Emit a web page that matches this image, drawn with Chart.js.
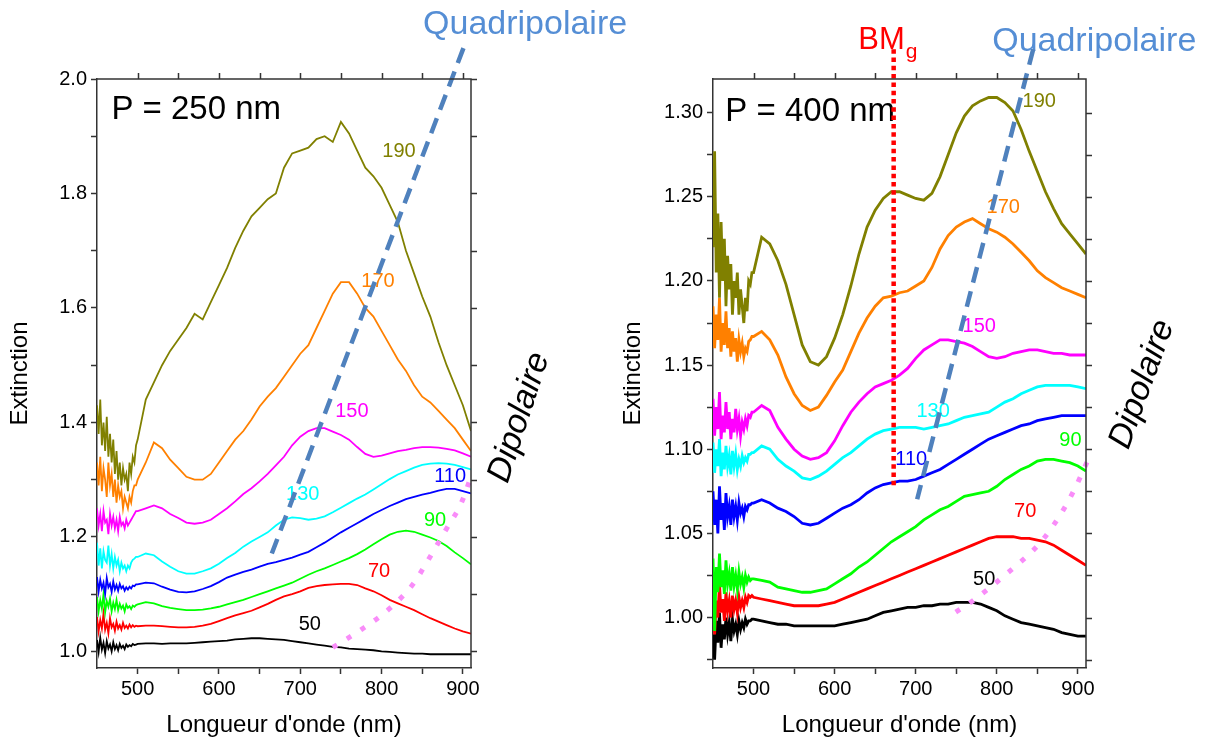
<!DOCTYPE html>
<html>
<head>
<meta charset="utf-8">
<script src="https://cdn.jsdelivr.net/npm/chart.js@4.4.0/dist/chart.umd.min.js"></script>
<style>
  html, body { margin: 0; padding: 0; background: #fff; }
  #wrap { position: relative; width: 1206px; height: 742px; }
  canvas { position: absolute; left: 0; top: 0; }
</style>
</head>
<body>
<div id="wrap">
  <canvas id="chartLeft" width="1206" height="742"></canvas>
  <canvas id="chartRight" width="1206" height="742"></canvas>
</div>
<script>
// wavelength grid (nm): dense at the noisy start, then every 10 nm
const wavelengths = [450,452,454,456,458,460,462,464,466,468,470,472,474,476,478,480,482,484,486,488,490,492,494,496,498,
  500,510,520,530,540,550,560,570,580,590,600,610,620,630,640,650,660,670,680,690,700,710,720,730,740,750,760,770,780,790,800,810,820,830,840,850,860,870,880,890,900,910];

const seriesNames = ['190', '170', '150', '130', '110', '90', '70', '50'];
const seriesColors = ['#808000', '#ff8000', '#ff00ff', '#00ffff', '#0000ff', '#00ff00', '#ff0000', '#000000'];

// P = 250 nm
const ext250_190 = [1.43,1.38,1.44,1.36,1.40,1.35,1.41,1.34,1.38,1.33,1.37,1.31,1.35,1.30,1.33,1.29,1.32,1.30,1.31,1.28,1.33,1.31,1.34,1.33,1.36,
  1.37,1.44,1.47,1.50,1.525,1.545,1.565,1.59,1.58,1.61,1.64,1.67,1.705,1.735,1.76,1.775,1.79,1.80,1.845,1.87,1.875,1.88,1.895,1.90,1.89,1.925,1.905,1.875,1.845,1.83,1.81,1.78,1.75,1.70,1.66,1.62,1.585,1.54,1.50,1.465,1.43,1.385];
const ext250_170 = [1.33,1.29,1.34,1.28,1.32,1.30,1.27,1.33,1.29,1.31,1.27,1.30,1.26,1.29,1.27,1.28,1.25,1.27,1.26,1.25,1.27,1.26,1.28,1.29,1.29,
  1.30,1.33,1.365,1.355,1.335,1.32,1.305,1.30,1.30,1.31,1.33,1.35,1.37,1.385,1.405,1.428,1.445,1.46,1.48,1.50,1.52,1.535,1.565,1.595,1.625,1.645,1.645,1.625,1.60,1.585,1.56,1.535,1.51,1.49,1.465,1.445,1.435,1.42,1.405,1.39,1.37,1.35];
const ext250_150 = [1.25,1.22,1.24,1.21,1.245,1.225,1.23,1.205,1.24,1.22,1.235,1.215,1.23,1.21,1.235,1.22,1.225,1.215,1.23,1.22,1.225,1.23,1.235,1.24,1.245,
  1.245,1.25,1.255,1.25,1.24,1.233,1.225,1.223,1.225,1.23,1.24,1.25,1.262,1.275,1.285,1.297,1.31,1.325,1.34,1.36,1.375,1.385,1.39,1.39,1.384,1.378,1.37,1.357,1.345,1.34,1.342,1.346,1.35,1.352,1.355,1.357,1.357,1.356,1.354,1.351,1.346,1.34];
const ext250_130 = [1.19,1.15,1.18,1.145,1.175,1.16,1.155,1.185,1.15,1.17,1.145,1.165,1.15,1.16,1.14,1.155,1.145,1.15,1.14,1.15,1.145,1.155,1.16,1.162,1.165,
  1.165,1.171,1.168,1.157,1.148,1.14,1.136,1.136,1.14,1.145,1.153,1.163,1.172,1.183,1.192,1.2,1.208,1.22,1.23,1.234,1.233,1.23,1.232,1.236,1.243,1.251,1.259,1.267,1.274,1.283,1.292,1.301,1.309,1.315,1.321,1.326,1.328,1.329,1.328,1.326,1.322,1.318];
const ext250_110 = [1.13,1.105,1.125,1.11,1.12,1.1,1.128,1.112,1.118,1.104,1.122,1.108,1.116,1.106,1.118,1.11,1.114,1.106,1.112,1.108,1.113,1.11,1.115,1.114,1.117,
  1.117,1.12,1.119,1.113,1.108,1.104,1.103,1.105,1.109,1.114,1.121,1.129,1.134,1.139,1.143,1.148,1.153,1.156,1.16,1.164,1.169,1.174,1.182,1.19,1.199,1.208,1.216,1.224,1.232,1.24,1.247,1.254,1.26,1.266,1.27,1.274,1.277,1.281,1.284,1.284,1.28,1.276];
const ext250_90 = [1.095,1.07,1.09,1.075,1.1,1.068,1.088,1.078,1.092,1.07,1.085,1.074,1.09,1.072,1.083,1.075,1.08,1.07,1.082,1.076,1.079,1.074,1.08,1.078,1.081,
  1.082,1.086,1.084,1.079,1.076,1.074,1.072,1.072,1.073,1.075,1.078,1.082,1.086,1.09,1.095,1.1,1.105,1.11,1.115,1.12,1.127,1.134,1.14,1.145,1.151,1.157,1.163,1.17,1.178,1.187,1.196,1.204,1.209,1.211,1.209,1.204,1.199,1.193,1.184,1.173,1.163,1.152];
const ext250_70 = [1.06,1.035,1.055,1.04,1.066,1.038,1.05,1.032,1.058,1.042,1.048,1.036,1.052,1.04,1.046,1.038,1.05,1.041,1.045,1.04,1.047,1.042,1.046,1.043,1.045,
  1.044,1.045,1.045,1.044,1.043,1.042,1.042,1.043,1.045,1.048,1.053,1.058,1.063,1.067,1.071,1.077,1.083,1.09,1.096,1.1,1.105,1.111,1.114,1.116,1.117,1.118,1.118,1.116,1.11,1.105,1.098,1.09,1.084,1.078,1.072,1.065,1.058,1.052,1.046,1.04,1.035,1.031];
const ext250_50 = [1.02,0.999,1.024,1.003,1.015,0.997,1.018,1.005,1.012,1.0,1.016,1.004,1.011,1.002,1.013,1.006,1.01,1.004,1.012,1.008,1.011,1.009,1.013,1.011,1.012,
  1.013,1.014,1.014,1.013,1.014,1.014,1.014,1.015,1.016,1.017,1.018,1.019,1.021,1.022,1.023,1.023,1.022,1.021,1.02,1.018,1.016,1.014,1.012,1.01,1.008,1.007,1.005,1.004,1.003,1.002,1.0,0.999,0.998,0.997,0.996,0.996,0.995,0.995,0.995,0.995,0.995,0.995];

// P = 400 nm
const ext400_190 = [1.22,1.277,1.205,1.24,1.19,1.235,1.2,1.225,1.185,1.215,1.195,1.21,1.18,1.2,1.19,1.205,1.18,1.195,1.185,1.175,1.19,1.182,1.2,1.198,1.205,
  1.205,1.226,1.222,1.212,1.198,1.18,1.162,1.152,1.15,1.155,1.166,1.18,1.197,1.216,1.232,1.242,1.249,1.253,1.253,1.251,1.249,1.248,1.252,1.262,1.275,1.288,1.298,1.304,1.307,1.309,1.309,1.306,1.301,1.29,1.277,1.265,1.253,1.243,1.234,1.228,1.222,1.216];
const ext400_170 = [1.185,1.16,1.18,1.165,1.19,1.158,1.175,1.162,1.182,1.16,1.172,1.155,1.17,1.158,1.166,1.152,1.165,1.158,1.163,1.155,1.16,1.158,1.164,1.165,1.167,
  1.167,1.17,1.165,1.156,1.143,1.133,1.126,1.123,1.125,1.132,1.14,1.147,1.158,1.169,1.178,1.185,1.19,1.191,1.193,1.194,1.197,1.2,1.208,1.219,1.227,1.232,1.235,1.237,1.234,1.231,1.229,1.226,1.222,1.217,1.212,1.206,1.202,1.199,1.196,1.194,1.192,1.19];
const ext400_150 = [1.13,1.108,1.125,1.112,1.134,1.106,1.12,1.11,1.128,1.112,1.122,1.106,1.118,1.11,1.124,1.112,1.118,1.108,1.116,1.112,1.118,1.114,1.12,1.119,1.122,
  1.122,1.126,1.123,1.113,1.106,1.1,1.096,1.094,1.095,1.098,1.105,1.114,1.122,1.128,1.133,1.137,1.139,1.141,1.144,1.148,1.154,1.159,1.162,1.165,1.165,1.164,1.163,1.161,1.158,1.155,1.154,1.155,1.157,1.158,1.159,1.159,1.158,1.157,1.157,1.156,1.156,1.156];
const ext400_130 = [1.104,1.086,1.1,1.09,1.106,1.084,1.098,1.088,1.102,1.09,1.096,1.085,1.099,1.09,1.097,1.088,1.094,1.09,1.096,1.092,1.095,1.093,1.097,1.097,1.098,
  1.098,1.102,1.1,1.094,1.09,1.087,1.083,1.082,1.084,1.087,1.091,1.095,1.098,1.102,1.106,1.109,1.111,1.112,1.113,1.113,1.113,1.112,1.113,1.114,1.115,1.117,1.119,1.12,1.121,1.122,1.125,1.128,1.13,1.133,1.135,1.137,1.138,1.138,1.138,1.138,1.137,1.136];
const ext400_110 = [1.075,1.055,1.07,1.05,1.078,1.058,1.068,1.052,1.074,1.06,1.066,1.055,1.07,1.06,1.066,1.058,1.068,1.062,1.065,1.06,1.066,1.064,1.067,1.067,1.068,
  1.068,1.07,1.068,1.065,1.063,1.06,1.056,1.055,1.056,1.059,1.062,1.065,1.067,1.07,1.074,1.077,1.079,1.08,1.081,1.081,1.082,1.084,1.086,1.088,1.091,1.094,1.097,1.1,1.103,1.106,1.108,1.11,1.112,1.114,1.115,1.117,1.118,1.119,1.12,1.12,1.12,1.12];
const ext400_90 = [1.035,0.992,1.03,1.015,1.038,1.018,1.028,1.014,1.034,1.02,1.026,1.016,1.03,1.019,1.025,1.017,1.027,1.02,1.024,1.018,1.025,1.021,1.024,1.022,1.023,
  1.023,1.022,1.021,1.018,1.017,1.016,1.015,1.015,1.016,1.017,1.02,1.023,1.026,1.03,1.033,1.037,1.041,1.045,1.048,1.051,1.054,1.058,1.061,1.064,1.066,1.069,1.072,1.073,1.074,1.075,1.078,1.082,1.085,1.088,1.09,1.093,1.094,1.094,1.093,1.092,1.09,1.087];
const ext400_70 = [1.012,0.99,1.01,1.0,1.02,1.003,1.011,0.998,1.015,1.004,1.01,1.0,1.013,1.005,1.01,1.003,1.012,1.006,1.01,1.006,1.012,1.009,1.013,1.012,1.013,
  1.012,1.011,1.01,1.009,1.008,1.007,1.007,1.007,1.007,1.008,1.009,1.011,1.013,1.015,1.017,1.019,1.021,1.023,1.025,1.027,1.029,1.031,1.033,1.035,1.037,1.039,1.041,1.043,1.045,1.047,1.048,1.048,1.048,1.047,1.047,1.046,1.045,1.043,1.04,1.037,1.034,1.031];
const ext400_50 = [0.99,0.975,0.998,0.985,1.003,0.982,0.996,0.987,1.0,0.99,0.997,0.986,0.999,0.992,0.996,0.99,0.998,0.993,0.997,0.994,0.999,0.996,0.998,0.998,0.999,
  0.999,0.998,0.997,0.996,0.996,0.995,0.995,0.995,0.995,0.995,0.995,0.996,0.997,0.998,0.999,1.001,1.003,1.004,1.005,1.006,1.006,1.007,1.007,1.008,1.008,1.009,1.009,1.009,1.008,1.006,1.004,1.001,0.999,0.997,0.996,0.995,0.994,0.993,0.991,0.99,0.989,0.989];

// ticks
const xTicks = [500, 550, 600, 650, 700, 750, 800, 850, 900];
const xTickLabels = ['500', '', '600', '', '700', '', '800', '', '900'];
const yTicks250 = [1.0, 1.1, 1.2, 1.3, 1.4, 1.5, 1.6, 1.7, 1.8, 1.9, 2.0];
const yTickLabels250 = ['1.0', '', '1.2', '', '1.4', '', '1.6', '', '1.8', '', '2.0'];
const yTicks400 = [0.975, 1.0, 1.025, 1.05, 1.075, 1.1, 1.125, 1.15, 1.175, 1.2, 1.225, 1.25, 1.275, 1.3];
const yTickLabels400 = ['', '1.00', '', '1.05', '', '1.10', '', '1.15', '', '1.20', '', '1.25', '', '1.30'];

// guide lines (wavelength, extinction)
const quad250X = [900.7, 665];
const quad250Y = [2.054, 1.171];
const dip250X = [740, 775, 810, 839, 857, 881, 898, 911, 918];
const dip250Y = [1.007, 1.038, 1.075, 1.118, 1.159, 1.217, 1.259, 1.311, 1.348];
const quad400X = [844.9, 701.8];
const quad400Y = [1.3377, 1.0703];
const bmgX = [672.8, 672.8];
const bmgY = [1.3377, 1.0777];
const dip400X = [749.4, 767.9, 808.6, 854.3, 882.7, 903.7, 916, 928];
const dip400Y = [1.0032, 1.0091, 1.0246, 1.0449, 1.0645, 1.0842, 1.0985, 1.118];

// where the series numbers sit (wavelength, extinction)
const tag250X = [821.5, 795.6, 763.5, 703.1, 884.3, 865.8, 796.9, 711.7];
const tag250Y = [1.874, 1.646, 1.419, 1.274, 1.306, 1.229, 1.139, 1.047];
const tag400X = [852.3, 807.9, 778.3, 721.5, 694.5, 890.8, 835.0, 784.5];
const tag400Y = [1.3068, 1.2438, 1.1731, 1.1226, 1.0941, 1.1054, 1.0632, 1.0227];

const family = "'Liberation Sans', Arial, sans-serif";
Chart.defaults.font.family = family;
Chart.defaults.color = '#000';

function toPoints(xs, ys) {
  return xs.map((x, i) => ({ x: x, y: ys[i] }));
}

const boxFrame = {
  id: 'boxFrame',
  afterDraw(chart) {
    const { ctx, chartArea: a, scales: { x, y } } = chart;
    ctx.save();
    ctx.strokeStyle = '#333';
    ctx.lineWidth = 1.5;
    ctx.beginPath();
    ctx.moveTo(a.left, a.top);
    ctx.lineTo(a.right, a.top);
    ctx.lineTo(a.right, a.bottom);
    x.ticks.forEach(t => {
      const px = Math.round(x.getPixelForValue(t.value)) + 0.5;
      ctx.moveTo(px, a.top);
      ctx.lineTo(px, a.top - 6);
    });
    y.ticks.forEach(t => {
      const py = Math.round(y.getPixelForValue(t.value)) + 0.5;
      ctx.moveTo(a.right, py);
      ctx.lineTo(a.right + 6, py);
    });
    ctx.stroke();
    ctx.restore();
  }
};

function notesPlugin(tagX, tagY, notes) {
  return {
    id: 'notes',
    beforeDatasetsDraw(chart) {
      const { ctx, scales: { x, y } } = chart;
      ctx.save();
      ctx.textAlign = 'center';
      ctx.textBaseline = 'middle';
      ctx.font = '20px ' + family;
      seriesNames.forEach((name, i) => {
        ctx.fillStyle = seriesColors[i];
        ctx.fillText(name, x.getPixelForValue(tagX[i]), y.getPixelForValue(tagY[i]));
      });
      notes.forEach(n => {
        const px = x.getPixelForValue(n.x);
        const py = y.getPixelForValue(n.y);
        ctx.save();
        ctx.fillStyle = n.color;
        ctx.font = (n.italic ? 'italic ' : '') + n.size + 'px ' + family;
        ctx.translate(px, py);
        if (n.rotate) ctx.rotate(n.rotate * Math.PI / 180);
        ctx.textAlign = n.align;
        ctx.textBaseline = n.baseline;
        ctx.fillText(n.text, 0, 0);
        if (n.sub) {
          const w = ctx.measureText(n.text).width;
          ctx.font = n.subSize + 'px ' + family;
          ctx.textAlign = 'left';
          ctx.fillText(n.sub, w + 1, 9);
        }
        ctx.restore();
      });
      ctx.restore();
    }
  };
}

function makeChart(canvasId, cfg) {
  const datasets = [];
  cfg.guides.forEach(g => datasets.push({
    data: toPoints(g.xs, g.ys),
    borderColor: g.color,
    borderWidth: g.width,
    borderDash: g.dash,
    borderCapStyle: 'butt',
    cubicInterpolationMode: g.curve ? 'monotone' : 'default',
    pointRadius: 0,
    fill: false,
    clip: false,
    order: 0
  }));
  cfg.series.forEach((s, i) => datasets.push({
    label: seriesNames[i],
    data: toPoints(wavelengths, s),
    borderColor: seriesColors[i],
    borderWidth: cfg.lineWidth,
    pointRadius: 0,
    fill: false,
    order: 1
  }));

  return new Chart(document.getElementById(canvasId), {
    type: 'line',
    data: { datasets: datasets },
    options: {
      responsive: false,
      animation: false,
      events: [],
      layout: { padding: cfg.padding },
      plugins: { legend: { display: false }, tooltip: { enabled: false } },
      scales: {
        x: {
          type: 'linear',
          min: 450,
          max: 910,
          afterBuildTicks: axis => { axis.ticks = xTicks.map(v => ({ value: v })); },
          afterFit: s => { s.height = 74; s.paddingLeft = 0; s.paddingRight = 0; },
          ticks: {
            autoSkip: false,
            maxRotation: 0,
            padding: 3,
            color: '#000',
            font: { size: 20 },
            callback: (v, i) => xTickLabels[i]
          },
          grid: { drawOnChartArea: false, tickLength: 6, tickColor: '#333', tickWidth: 1.5 },
          border: { color: '#333', width: 1.5 },
          title: { display: true, text: "Longueur d'onde (nm)", color: '#000', font: { size: 24 }, padding: { top: 0, bottom: 2 } }
        },
        y: {
          type: 'linear',
          min: cfg.yMin,
          max: cfg.yMax,
          afterBuildTicks: axis => { axis.ticks = cfg.yTicks.map(v => ({ value: v })); },
          afterFit: s => { s.width = cfg.yWidth; s.paddingTop = 0; s.paddingBottom = 0; },
          ticks: {
            autoSkip: false,
            padding: 4,
            color: '#000',
            font: { size: 20 },
            callback: (v, i) => cfg.yLabels[i]
          },
          grid: { drawOnChartArea: false, tickLength: 6, tickColor: '#333', tickWidth: 1.5 },
          border: { color: '#333', width: 1.5 },
          title: { display: true, text: 'Extinction', color: '#000', font: { size: 24 }, padding: { top: 6, bottom: 0 } }
        }
      }
    },
    plugins: [boxFrame, notesPlugin(cfg.tagX, cfg.tagY, cfg.notes)]
  });
}

makeChart('chartLeft', {
  series: [ext250_190, ext250_170, ext250_150, ext250_130, ext250_110, ext250_90, ext250_70, ext250_50],
  lineWidth: 1.8,
  yMin: 0.971,
  yMax: 2.0,
  yTicks: yTicks250,
  yLabels: yTickLabels250,
  yWidth: 97,
  padding: { left: 0, top: 79, right: 735, bottom: 0 },
  tagX: tag250X,
  tagY: tag250Y,
  guides: [
    { xs: quad250X, ys: quad250Y, color: '#4f81bd', width: 4.5, dash: [16, 9] },
    { xs: dip250X, ys: dip250Y, color: '#f98cf9', width: 5, dash: [5, 11.5], curve: true }
  ],
  notes: [
    { text: 'P = 250 nm', x: 467.7, y: 1.93, size: 33, color: '#000', align: 'left', baseline: 'alphabetic' },
    { text: 'Quadripolaire', x: 851, y: 2.0787, size: 34, color: '#558ed5', align: 'left', baseline: 'alphabetic' },
    { text: 'Dipolaire', x: 969.4, y: 1.4088, size: 34, color: '#000', align: 'center', baseline: 'middle', italic: true, rotate: -72 }
  ]
});

makeChart('chartRight', {
  series: [ext400_190, ext400_170, ext400_150, ext400_130, ext400_110, ext400_90, ext400_70, ext400_50],
  lineWidth: 2.8,
  yMin: 0.970,
  yMax: 1.320,
  yTicks: yTicks400,
  yLabels: yTickLabels400,
  yWidth: 100,
  padding: { left: 613, top: 79, right: 120, bottom: 0 },
  tagX: tag400X,
  tagY: tag400Y,
  guides: [
    { xs: bmgX, ys: bmgY, color: '#ff0000', width: 4.5, dash: [4.5, 3.8] },
    { xs: quad400X, ys: quad400Y, color: '#4f81bd', width: 4.5, dash: [16, 9] },
    { xs: dip400X, ys: dip400Y, color: '#f98cf9', width: 5, dash: [5, 11.5], curve: true }
  ],
  notes: [
    { text: 'P = 400 nm', x: 465.2, y: 1.2948, size: 33, color: '#000', align: 'left', baseline: 'alphabetic' },
    { text: 'Quadripolaire', x: 794.3, y: 1.3368, size: 34, color: '#558ed5', align: 'left', baseline: 'alphabetic' },
    { text: 'BM', x: 629.1, y: 1.338, size: 31, color: '#ff0000', align: 'left', baseline: 'alphabetic', sub: 'g', subSize: 21 },
    { text: 'Dipolaire', x: 979.3, y: 1.1386, size: 34, color: '#000', align: 'center', baseline: 'middle', italic: true, rotate: -70 }
  ]
});
</script>
</body>
</html>
